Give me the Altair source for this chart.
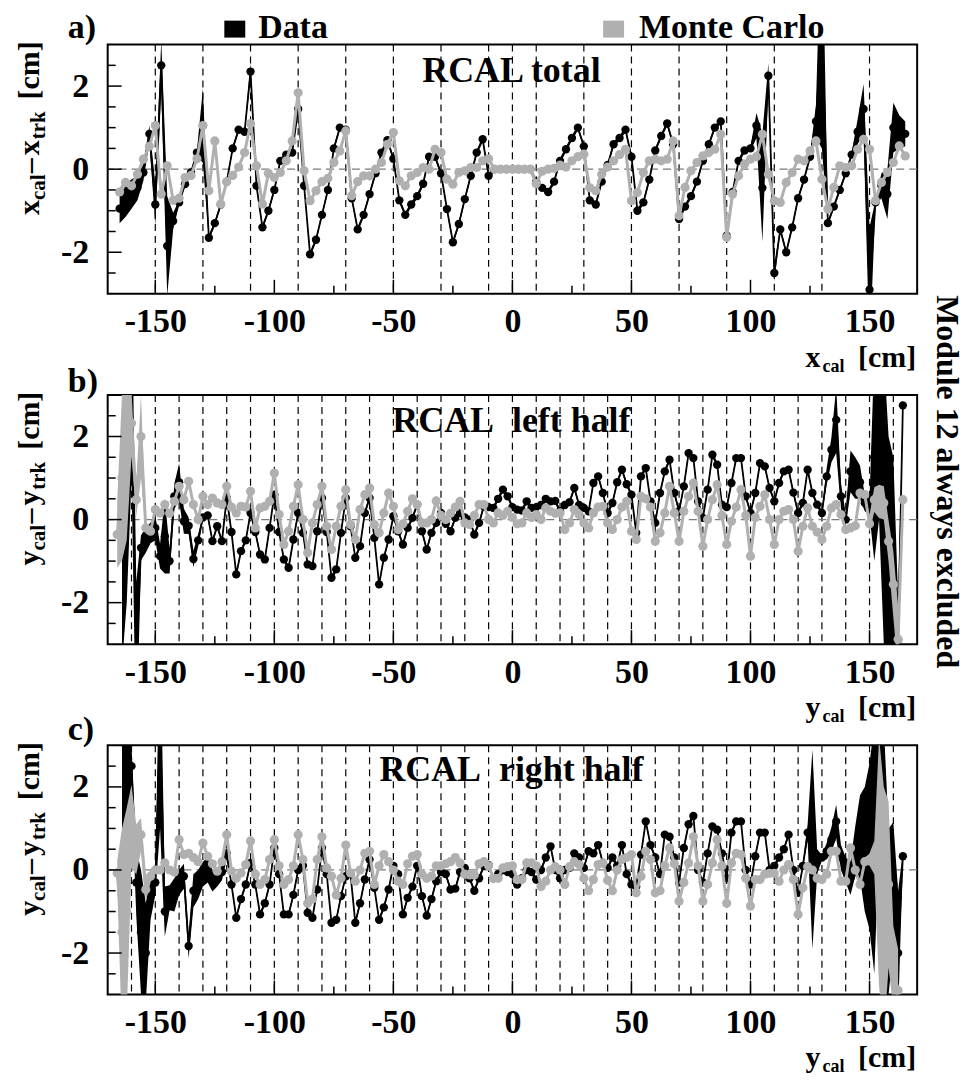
import altair as alt
import pandas as pd

FONT = "Liberation Serif"
GRAY = "#b0b0b0"
W, H = 812, 250

# ---------------- data (bin grids) ----------------
A_X0, A_STEP = -170.0, 2.5      # panel a: 2.5 cm bins
BC_X0, BC_STEP = -170.0, 2.0    # panels b, c: 2 cm bins

# Panel a : x_cal - x_trk  (RCAL total)
A_DATA = [
    None,
    None, -0.95, -0.75, -0.6, -0.45, -0.08, 0.85, -0.85,
    2.5, -1.85, -1.25, -0.8, -0.36, -0.08, 0.4, 1.05,
    -1.65, -1.3, -0.85, -0.3, 0.5, 0.95, 0.9, 2.35,
    -0.4, -1.4, -1.0, -0.5, 0.2, 0.35, 0.4, 1.45,
    -0.4, -2.05, -1.7, -1.1, -0.5, 0.5, 1.0, 0.95,
    -0.7, -1.45, -1.1, -0.6, -0.1, 0.4, 0.7, 0.25,
    -0.75, -1.1, -0.85, -0.65, -0.35, 0.3, 0.3, -0.1,
    -0.96, -1.76, -1.32, -0.72, -0.16, 0.4, 0.72, -0.16,
    0.0, 0.0, 0.0, 0.0, 0.0, 0.0, 0.0, -0.3,
    -0.45, -0.55, -0.3, 0.2, 0.48, 0.75, 1.0, 0.55,
    -0.75, -0.85, -0.3, 0.1, 0.6, 0.75, 0.95, 0.3,
    -1.0, -0.8, -0.25, 0.45, 0.8, 1.1, 0.6, -1.2,
    -0.9, -0.65, -0.3, 0.2, 0.6, 1.0, 1.15, -1.6,
    -0.55, 0.2, 0.45, 0.5, 1.05, -0.45, 2.25, -2.5,
    -1.45, -2.0, -1.4, -0.7, -0.25, 0.3, 1.15, 3.5,
    -1.3, -0.9, -0.5, -0.1, 0.35, 0.9, 1.45, -2.9,
    -0.8, -0.4, -0.6, 1.0, 0.9, 0.85, None, None,
]
A_MC = [
    None,
    None, -0.55, -0.32, -0.4, -0.12, 0.24, 0.55, 1.05,
    -0.6, 0.08, -0.75, -0.7, -0.2, -0.15, 0.25, 1.05,
    -0.52, 0.68, -0.84, -0.3, -0.15, 0.05, 0.4, 1.1,
    0.08, -0.84, -0.1, -0.2, -0.08, 0.2, 0.68, 1.84,
    -0.04, -0.76, -0.52, -0.3, -0.22, 0.16, 0.44, 0.92,
    -0.64, -0.3, -0.16, -0.16, 0.0, 0.16, 0.6, 0.88,
    -0.28, -0.4, -0.16, -0.08, 0.04, 0.0, 0.48, 0.4,
    -0.24, -0.36, -0.08, -0.04, 0.04, 0.04, 0.2, 0.25,
    0.0, 0.0, 0.0, 0.0, 0.0, 0.0, 0.0, -0.35,
    -0.05, 0.0, 0.02, 0.1, 0.05, 0.2, 0.3, 0.36,
    -0.45, -0.52, -0.12, 0.05, 0.2, 0.35, 0.48, -0.76,
    -0.56, -0.08, 0.2, 0.24, 0.2, 0.24, 0.68, -1.12,
    -0.44, -0.04, 0.16, 0.32, 0.4, 0.48, 0.84, -1.64,
    -0.6, -0.16, 0.12, 0.24, 0.3, 0.84, -0.12, -0.76,
    -0.8, -0.32, -0.08, 0.24, 0.2, 0.44, 0.68, -0.24,
    -0.96, -0.44, 0.08, 0.04, 0.08, 0.48, 0.72, 0.48,
    -0.76, -0.32, -0.08, 0.16, 0.56, 0.32, None, None,
]
A_DATA_ERR = {-165: 0.35, -162.5: 0.4, -160: 0.35, -157.5: 0.3, -155: 0.2, -152.5: 0.2,
              -150: 0.5, -147.5: 0.6, -145: 1.2, -142.5: 0.2, -130: 0.9, -110: 0.2,
              102.5: 0.3, 105: 1.3, 107.5: 0.3, 110: 0.2, 127.5: 0.4, 130: 3.0,
              145: 0.3, 147.5: 0.6, 150: 1.5, 155: 0.3, 157.5: 0.6, 160: 0.6,
              162.5: 0.4, 165: 0.3}
A_MC_ERR = {-165: 0.1, -162.5: 0.1}

# Panel b : y_cal - y_trk  (RCAL left half)
B_DATA = [
    None,
    None, None, 0.0, 1.5, 3.5,
    -3.5, -0.68, -0.5, -0.32, -0.2,
    -0.88, -0.4, -1.0, 0.56, 0.9,
    -0.04, -0.15, -0.95, -0.5, 0.05,
    0.1, -0.52, -0.16, -0.52, 0.52,
    -0.3, -1.32, -0.76, -0.5, 0.16,
    -0.3, -0.84, -0.96, -0.2, 0.6,
    -0.3, -0.96, -1.16, -0.48, 0.16,
    -0.32, -1.08, -1.12, -0.28, 0.52,
    -0.3, -1.4, -1.2, -0.32, 0.52,
    -0.16, -0.92, -0.64, 0.16, 0.52,
    -0.44, -1.56, -0.92, -0.48, 0.08,
    -0.28, -0.6, -0.2, 0.04, 0.36,
    -0.28, -0.72, -0.32, -0.08, 0.16,
    -0.1, -0.28, 0.04, 0.16, 0.05,
    0.0, -0.36, -0.08, 0.32, 0.3,
    0.28, 0.5, 0.72, 0.56, 0.3,
    0.24, 0.22, 0.44, 0.28, 0.3,
    0.35, 0.5, 0.44, 0.45, 0.2,
    0.35, 0.42, 0.76, 0.35, 0.28,
    0.2, 0.88, 1.04, 0.64, 0.16,
    0.4, 0.9, 1.2, 0.85, 0.6,
    -0.32, 1.04, 1.24, 0.44, -0.08,
    0.64, 1.16, 1.44, 0.64, 0.2,
    0.8, 1.6, 1.48, 0.44, 0.04,
    0.72, 1.56, 1.32, 0.36, 0.3,
    0.88, 1.48, 1.48, 0.56, 0.16,
    0.64, 1.36, 1.28, 0.76, 0.44,
    0.88, 1.16, 1.2, 0.65, 0.16,
    0.4, 1.2, 0.64, 0.36, 0.16,
    1.04, 1.68, 2.4, 0.56, 0.0,
    1.16, 1.0, 0.9, 0.4, 0.32,
    1.5, 3.5, 0.5, -1.0, -1.5,
    -2.9, 2.75, None, None, None,
]
B_MC = [
    None,
    None, -0.36, 1.0, 1.5, 2.32,
    0.48, 2.0, -0.2, -0.28, 0.24,
    0.16, 0.36, 0.15, 0.44, 0.8,
    0.48, 0.92, 0.36, 0.0, 0.56,
    0.36, 0.52, 0.4, 0.36, 0.8,
    0.3, 0.16, 0.32, 0.3, 0.68,
    -0.2, 0.28, 0.32, 0.44, 1.12,
    0.12, -0.6, -0.28, 0.32, 0.84,
    0.0, -0.8, -0.08, 0.36, 0.8,
    -0.16, -0.72, -0.16, 0.32, 0.72,
    -0.12, -0.48, 0.24, 0.6, 0.76,
    -0.12, -0.32, 0.16, 0.64, 0.32,
    -0.24, -0.1, 0.2, 0.5, 0.36,
    -0.08, -0.08, 0.0, 0.45, 0.1,
    0.0, 0.15, 0.3, 0.44, -0.08,
    -0.12, 0.1, 0.36, 0.36, 0.0,
    -0.08, 0.16, 0.1, 0.2, 0.05,
    -0.1, -0.08, 0.16, 0.05, 0.12,
    0.0, 0.28, 0.2, 0.15, 0.16,
    -0.24, -0.08, 0.24, 0.12, -0.08,
    -0.2, 0.16, 0.3, 0.32, -0.08,
    -0.24, 0.0, 0.3, 0.44, -0.28,
    -0.48, 0.56, 0.5, 0.3, -0.52,
    -0.32, 0.16, 0.8, 0.16, -0.52,
    0.2, 0.56, 0.88, 0.2, -0.64,
    0.0, 0.48, 0.84, 0.1, -0.6,
    -0.04, 0.3, 0.72, 0.1, -0.88,
    0.05, 0.32, 0.6, 0.0, -0.6,
    0.0, 0.2, 0.24, 0.0, -0.76,
    -0.16, 0.28, -0.16, -0.3, -0.48,
    -0.16, 0.28, 0.36, 0.12, -0.24,
    -0.2, -0.15, 0.64, 0.6, -0.1,
    0.48, 0.44, 0.4, -0.52, -1.56,
    -2.88, 0.48, None, None, None,
]
B_DATA_ERR = {-164: 3.5, -162: 3.5, -160: 2.5, -158: 2.0, -156: 0.3, -154: 0.3,
              -152: 0.25, -150: 0.3, -148: 0.3, -146: 0.9, -144: 0.3, -142: 0.3,
              -140: 0.45, -138: 0.3, -136: 0.2, -134: 0.2, -132: 0.15,
              132: 0.2, 134: 0.3, 136: 0.8, 138: 0.3, 140: 0.15, 142: 0.5, 144: 0.5,
              146: 0.4, 148: 0.2, 150: 0.2, 152: 2.5, 154: 3.5, 156: 3.5, 158: 3.0,
              160: 3.0, 162: 1.0, 164: 0.1}
B_MC_ERR = {-166: 0.8, -164: 2.0, -162: 2.0, -160: 0.8, -158: 0.4, -156: 1.0, -154: 0.15,
            150: 0.2, 152: 0.3, 154: 0.4, 156: 0.4, 158: 0.5, 160: 0.8, 162: 0.8}

# Panel c : y_cal - y_trk  (RCAL right half)
C_DATA = [
    None,
    None, None, 3.5, 0.5, 2.5,
    -0.3, -1.5, -2.0, -0.6, -0.3,
    3.5, -1.0, -0.67, -0.6, -0.3,
    -0.15, -1.83, -0.5, -0.35, -0.1,
    0.0, -0.27, -0.2, -0.05, 0.4,
    -0.35, -1.15, -0.7, -0.35, 0.17,
    -0.35, -1.07, -0.8, -0.35, 0.53,
    -0.1, -1.07, -1.07, -0.6, 0.0,
    0.1, -1.03, -1.15, -0.47, 0.53,
    -0.1, -1.27, -1.2, -0.63, -0.15,
    -0.1, -1.27, -0.8, -0.23, 0.25,
    -0.43, -1.2, -0.9, -0.47, 0.1,
    -0.1, -1.07, -0.67, -0.4, 0.1,
    -0.63, -1.1, -0.7, -0.27, -0.05,
    -0.1, -0.47, -0.45, -0.05, 0.05,
    -0.2, -0.5, -0.2, 0.1, 0.12,
    -0.2, -0.1, 0.0, -0.05, -0.1,
    -0.35, -0.2, 0.0, -0.05, -0.23,
    0.0, 0.3, 0.57, 0.0, -0.2,
    0.0, 0.05, 0.4, 0.3, 0.05,
    0.45, 0.4, 0.6, 0.17, 0.05,
    0.3, 0.1, 0.6, -0.1, -0.35,
    -0.4, 0.37, 1.17, 0.6, 0.3,
    -0.1, 0.85, 0.8, 0.3, -0.3,
    0.53, 1.1, 1.3, 0.0, -0.3,
    0.4, 1.05, 0.97, 0.4, -0.2,
    0.9, 1.17, 1.17, 0.0, -0.35,
    0.33, 0.9, 0.9, 0.0, 0.1,
    0.3, 0.5, 0.85, 0.0, -0.55,
    0.1, 0.9, 0.5, 0.2, 0.3,
    0.45, 0.73, 1.17, 0.3, 0.0,
    -0.2, 0.45, 0.8, 0.5, 0.57,
    0.5, 3.5, 0.0, -1.0, -0.35,
    -2.0, 0.33, None, None, None,
]
C_MC = [
    None,
    None, -0.07, -1.5, -1.0, 1.05,
    0.5, 0.85, -0.47, -0.15, 0.0,
    0.0, 0.17, 0.0, -0.05, 0.73,
    0.37, 0.4, 0.3, 0.2, 0.65,
    0.33, 0.15, -0.03, 0.2, 0.85,
    -0.03, -0.2, -0.07, 0.13, 0.7,
    -0.1, -0.35, -0.23, 0.25, 0.73,
    0.1, -0.35, -0.23, 0.1, 0.85,
    0.25, -0.8, -0.7, 0.25, 0.8,
    0.05, -0.15, -0.6, -0.2, 0.6,
    -0.07, -0.27, 0.0, 0.4, 0.45,
    -0.35, 0.1, 0.37, 0.2, 0.0,
    -0.27, -0.35, 0.15, 0.33, 0.37,
    -0.1, -0.2, -0.15, 0.1, 0.1,
    0.15, 0.2, 0.3, 0.17, -0.1,
    -0.12, -0.12, 0.15, 0.2, 0.1,
    -0.2, -0.2, 0.05, 0.08, 0.1,
    -0.23, -0.23, 0.17, 0.17, 0.1,
    -0.4, -0.27, 0.0, 0.08, 0.0,
    -0.35, 0.08, 0.2, 0.13, -0.2,
    -0.5, -0.23, 0.13, 0.17, -0.25,
    -0.5, 0.0, 0.25, 0.3, 0.37,
    -0.55, -0.15, 0.45, 0.25, -0.55,
    -0.5, 0.1, 0.53, 0.15, -0.75,
    -0.3, 0.17, 0.8, 0.1, -0.75,
    -0.35, 0.17, 0.73, 0.1, -0.8,
    0.17, 0.4, 0.37, -0.2, -0.87,
    -0.23, -0.23, -0.1, -0.08, -0.08,
    -0.27, 0.0, 0.13, -0.23, -1.07,
    -0.43, 0.08, 0.0, -0.2, -0.23,
    -0.1, 0.45, 0.45, -0.27, -0.27,
    0.53, 0.0, -0.35, 0.2, 0.25,
    0.3, 0.2, -1.0, -0.35, -2.35,
    -2.9, None, None, None, None,
]
C_DATA_ERR = {-164: 3.0, -162: 3.5, -160: 0.5, -158: 0.8, -156: 1.5, -154: 1.2, -152: 0.6,
              -150: 0.3, -148: 2.5, -146: 0.6, -144: 0.3, -142: 0.4, -140: 0.3, -138: 0.3,
              -136: 0.3, -134: 0.4, -132: 0.35, -130: 0.3, -128: 0.3, -126: 0.25,
              -124: 0.2, -122: 0.2, -120: 0.15, 124: 0.2, 126: 2.4, 128: 0.3, 132: 0.2,
              134: 0.3, 136: 0.4, 138: 0.3, 140: 0.3, 142: 0.4, 144: 0.6, 146: 1.0,
              148: 1.5, 150: 2.0, 152: 3.0, 154: 3.0, 156: 3.5, 158: 2.0, 160: 1.5,
              162: 1.5, 164: 0.1}
C_MC_ERR = {-166: 0.3, -164: 2.5, -162: 2.5, -160: 1.0, -158: 0.6, -156: 0.4, -154: 0.3,
            -152: 0.15, 150: 0.15, 152: 0.4, 154: 3.0, 156: 3.0, 158: 2.0, 160: 1.0,
            162: 1.0}
DATA_ERR_DEFAULT = 0.06
MC_ERR_DEFAULT = 0.05

# axes / decorations
XLABELS = [-150, -100, -50, 0, 50, 100, 150]
XTICK_MAJOR = [-150, -100, -50, 0, 50, 100, 150]
XTICK_MINOR = [-125, -75, -25, 25, 75, 125]
YLABELS = [-2, 0, 2]
YTICK_MAJOR = [-2, 0, 2]
YTICK_MINOR = [-2.5, -1.5, -1, -0.5, 0.5, 1, 1.5, 2.5]
VLINES_A = [-150, -130, -110, -90, -70, -50, -30, -10, 0, 10, 30, 50, 70, 90, 110, 130, 150]
VLINES_BC = [-160, -150, -140, -130, -120, -110, -100, -90, -80, -70, -60, -50, -40, -30,
             -20, -10, 0, 10, 20, 30, 40, 50, 60, 70, 80, 90, 100, 110, 120, 130, 140,
             150, 160]

XSC = alt.Scale(domain=[-170, 170], nice=False, zero=False)
YSC = alt.Scale(domain=[-3, 3], nice=False, zero=False)
ONE = pd.DataFrame({"k": [0]})

HYPHEN = "replace(datum.label, '\u2212', '-')"
XAXIS = alt.Axis(values=XLABELS, title=None, grid=False, domain=False, ticks=False,
                 labelFont=FONT, labelFontSize=34, labelFontWeight="bold",
                 labelColor="black", labelPadding=11, labelFlush=False, labelOverlap=False,
                 labelExpr=HYPHEN)
YAXIS = alt.Axis(values=YLABELS, title=None, grid=False, domain=False, ticks=False,
                 labelFont=FONT, labelFontSize=34, labelFontWeight="bold",
                 labelColor="black", labelPadding=19, labelOverlap=False,
                 labelExpr=HYPHEN)


def series_df(x0, step, vals, errs, default_err):
    rows = []
    for i, v in enumerate(vals):
        if v is None:
            continue
        x = x0 + step * i
        e = errs.get(x, default_err)
        rows.append({"x": x, "v": v, "lo": v - e, "hi": v + e})
    return pd.DataFrame(rows)


def X():
    return alt.X("x:Q", scale=XSC, axis=XAXIS)


def Y(field):
    return alt.Y(f"{field}:Q", scale=YSC, axis=YAXIS)


def txt(s, x, y, size, angle=0, align="left", baseline="alphabetic", color="black"):
    return alt.Chart(ONE).mark_text(
        text=s, font=FONT, fontSize=size, fontWeight="bold", angle=angle,
        align=align, baseline=baseline, color=color
    ).encode(x=alt.value(x), y=alt.value(y))


def series_layers(df, color, lw, size):
    b = alt.Chart(df)
    return [
        b.mark_area(color=color, opacity=1, clip=True).encode(
            x=X(), y=Y("lo"), y2=alt.Y2("hi:Q")),
        b.mark_line(color=color, strokeWidth=lw, clip=True).encode(x=X(), y=Y("v")),
        b.mark_circle(color=color, size=size, opacity=1, clip=True).encode(x=X(), y=Y("v")),
    ]


def panel(vlines, d_df, m_df, var, title, title_y, tag, tag_y, extra):
    L = []
    L.append(alt.Chart(pd.DataFrame({"x": vlines})).mark_rule(
        color="black", strokeWidth=1.2, strokeDash=[7, 5]).encode(x=X()))
    L.append(alt.Chart(pd.DataFrame({"y": [0]})).mark_rule(
        color="#7a7a7a", strokeWidth=1.3, strokeDash=[8, 5]).encode(y=Y("y")))
    L += series_layers(d_df, "black", 1.8, 70)
    L += series_layers(m_df, GRAY, 3, 85)
    # inward ticks
    L.append(alt.Chart(pd.DataFrame({"x": XTICK_MAJOR})).mark_rule(
        color="black", strokeWidth=1.5).encode(x=X(), y=alt.value(H), y2=alt.value(H - 14)))
    L.append(alt.Chart(pd.DataFrame({"x": XTICK_MINOR})).mark_rule(
        color="black", strokeWidth=1.5).encode(x=X(), y=alt.value(H), y2=alt.value(H - 8)))
    L.append(alt.Chart(pd.DataFrame({"y": YTICK_MAJOR})).mark_rule(
        color="black", strokeWidth=1.5).encode(y=Y("y"), x=alt.value(0), x2=alt.value(14)))
    L.append(alt.Chart(pd.DataFrame({"y": YTICK_MINOR})).mark_rule(
        color="black", strokeWidth=1.5).encode(y=Y("y"), x=alt.value(0), x2=alt.value(8)))
    # panel title and tag
    L.append(txt(title, W / 2 - 1, title_y, 36, align="center"))
    L.append(txt(tag, -40, tag_y, 34))
    # y-axis title with subscripts (rotated)
    L.append(txt(var, -69, 171, 30, angle=270))
    L.append(txt("cal", -63, 156, 21, angle=270))
    L.append(txt("\u2013", -69, 129, 30, angle=270))
    L.append(txt(var, -69, 111, 30, angle=270))
    L.append(txt("trk", -63, 95, 21, angle=270))
    L.append(txt("[cm]", -69, 55, 30, angle=270))
    # x-axis title with subscript
    L.append(txt(var, 700, H + 73, 30))
    L.append(txt("cal", 717, H + 78, 18))
    L.append(txt("[cm]", 811, H + 73, 30, align="right"))
    L += extra
    return alt.layer(*L).properties(width=W, height=H)


dA = series_df(A_X0, A_STEP, A_DATA, A_DATA_ERR, DATA_ERR_DEFAULT)
mA = series_df(A_X0, A_STEP, A_MC, A_MC_ERR, MC_ERR_DEFAULT)
dB = series_df(BC_X0, BC_STEP, B_DATA, B_DATA_ERR, DATA_ERR_DEFAULT)
mB = series_df(BC_X0, BC_STEP, B_MC, B_MC_ERR, MC_ERR_DEFAULT)
dC = series_df(BC_X0, BC_STEP, C_DATA, C_DATA_ERR, DATA_ERR_DEFAULT)
mC = series_df(BC_X0, BC_STEP, C_MC, C_MC_ERR, MC_ERR_DEFAULT)

legend = [
    alt.Chart(ONE).mark_rect(color="black").encode(
        x=alt.value(117), x2=alt.value(138), y=alt.value(-24), y2=alt.value(-7)),
    txt("Data", 151, -7, 34),
    alt.Chart(ONE).mark_rect(color=GRAY).encode(
        x=alt.value(497), x2=alt.value(518), y=alt.value(-24), y2=alt.value(-7)),
    txt("Monte Carlo", 533, -7, 34),
    alt.Chart(ONE).mark_point(size=1, opacity=0).encode(
        x=alt.value(-98.5), y=alt.value(-33.5)),
]
side = [txt("Module 12 always excluded", 832, 87, 32, angle=90, align="center")]

pa = panel(VLINES_A, dA, mA, "x", "RCAL total", 38, "a)", -7, legend)
pb = panel(VLINES_BC, dB, mB, "y", "RCAL\u00a0\u00a0left half", 37, "b)", -3, side)
pc = panel(VLINES_BC, dC, mC, "y", "RCAL\u00a0\u00a0right half", 36, "c)", -5, [])

chart = alt.vconcat(pa, pb, pc, spacing=101.5, bounds="flush").properties(
    padding=0
).configure_view(stroke="black", strokeWidth=2)

chart.save("out.html", embed_options={"renderer": "svg", "actions": False})
